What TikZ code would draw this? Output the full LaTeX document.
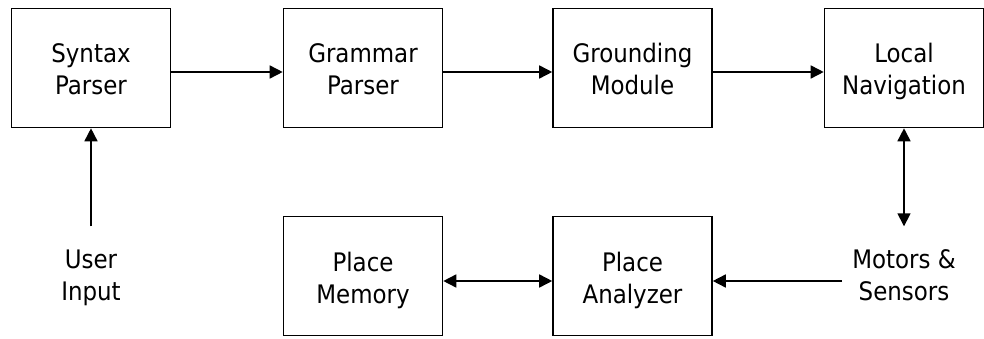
\documentclass[tikz,border=0pt]{standalone}
\usepackage{fontspec}
\setmainfont{DejaVu Sans Condensed}
\usetikzlibrary{arrows.meta}

\begin{document}
\begin{tikzpicture}[x=1pt, y=-1pt, >={Triangle[length=13pt, width=13pt]},
  every node/.style={font=\fontsize{25.5}{32}\selectfont,
                     text height=55.5pt, text depth=1.5pt},
  box/.style={draw, line width=1.6pt, minimum width=159pt,
              minimum height=119pt, align=center},
  ext/.style={align=center, inner xsep=10pt, inner ysep=18pt},
  link/.style={line width=1.6pt}]
  \useasboundingbox (0,0) rectangle (984,339);

  % Pipeline (top row)
  \foreach \n/\x/\t in {syn/91/{Syntax\\Parser}, gram/363/{Grammar\\Parser},
                        grd/632.5/{Grounding\\Module}, nav/904/{Local\\Navigation}} {
    \node[box] (\n) at (\x, 68) {\t};
  }

  % Place handling (bottom row)
  \node[box] (mem) at (363, 276) {Place\\Memory};
  \node[box] (ana) at (632.5, 276) {Place\\Analyzer};

  % Outside world
  \node[ext] (inp) at (91, 273) {User\\Input};
  \node[ext] (mot) at (904, 273) {Motors \&\\Sensors};

  \draw[->, link] ([yshift=-4pt]syn.east) -- ([yshift=-4pt]gram.west);
  \draw[->, link] ([yshift=-4pt]gram.east) -- ([yshift=-4pt]grd.west);
  \draw[->, link] ([yshift=-4pt]grd.east) -- ([yshift=-4pt]nav.west);
  \draw[->, link] (inp) -- (syn);
  \draw[<->, link] (nav) -- (mot);
  \draw[->, link] ([yshift=-5pt]mot.west |- ana.east) -- ([yshift=-5pt]ana.east);
  \draw[<->, link] ([yshift=-5pt]mem.east) -- ([yshift=-5pt]ana.west);
\end{tikzpicture}
\end{document}
